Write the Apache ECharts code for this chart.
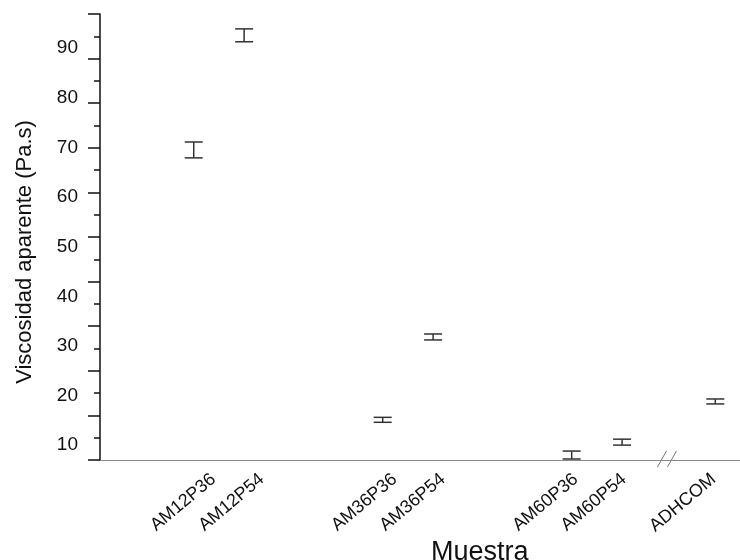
<!DOCTYPE html>
<html>
<head>
<meta charset="utf-8">
<script src="https://cdn.jsdelivr.net/npm/echarts@6/dist/echarts.min.js"></script>
<style>html,body{margin:0;padding:0;background:#fff}#c{width:740px;height:560px}</style>
</head>
<body>
<div id="c"></div>
<script>
// ---- data ----
const samples = ['AM12P36', 'AM12P54', 'AM36P36', 'AM36P54', 'AM60P36', 'AM60P54', 'ADHCOM'];
const xPos = [1, 2, 4.75, 5.75, 8.5, 9.5, 11.35];
const means = [69.5, 92.6, 15.1, 31.8, 8.0, 10.6, 18.8];
const errs = [1.6, 1.3, 0.5, 0.6, 0.8, 0.6, 0.5];
const yTickLabels = [10, 20, 30, 40, 50, 60, 70, 80, 90];
const breakAt = [10.4];
const yTitle = 'Viscosidad aparente (Pa.s)';
const xTitle = 'Muestra';

const FONT = 'Liberation Sans, Arial, Helvetica, sans-serif';
const chart = echarts.init(document.getElementById('c'));

const errData = samples.map((s, i) => [xPos[i], means[i] - errs[i], means[i] + errs[i], s]);

chart.setOption({
  animation: false,
  backgroundColor: '#fff',
  title: {
    text: xTitle, left: 426, top: 534,
    textStyle: { fontFamily: FONT, fontSize: 27, fontWeight: 'normal', color: '#111' }
  },
  grid: { left: 100, right: 0, top: 14, bottom: 100, containLabel: false, outerBoundsMode: 'none' },
  xAxis: [
    {
      type: 'value', min: -0.86, max: 11.84, position: 'bottom',
      axisLine: { show: true, onZero: false, lineStyle: { color: '#8a8a8a', width: 1 } },
      axisTick: { show: false }, axisLabel: { show: false }, splitLine: { show: false }
    },
    {
      type: 'value', min: -1.35, max: 11.9, interval: 0.05, position: 'bottom',
      axisLine: { show: false }, axisTick: { show: false }, splitLine: { show: false },
      axisLabel: {
        show: true, rotate: 40, margin: 17, fontFamily: FONT, fontSize: 18, color: '#111',
        showMinLabel: false, showMaxLabel: false,
        formatter: function (v) {
          for (let i = 0; i < xPos.length; i++) if (Math.abs(xPos[i] - v) < 0.01) return samples[i];
          return '';
        }
      }
    }
  ],
  yAxis: [
    {
      type: 'value', min: 0, max: 100, interval: 10, position: 'left',
      name: yTitle, nameLocation: 'middle', nameGap: 64, nameRotate: 90,
      nameTextStyle: { fontFamily: FONT, fontSize: 22, color: '#111', padding: [0, 30, 0, 0] },
      axisLine: { show: true, onZero: false, lineStyle: { color: '#111', width: 1.5 } },
      axisTick: { show: true, inside: false, length: 12, lineStyle: { color: '#111', width: 1.5 } },
      minorTick: { show: true, splitNumber: 2, length: 6, lineStyle: { color: '#111', width: 1.5 } },
      axisLabel: { show: false }, splitLine: { show: false }, minorSplitLine: { show: false }
    },
    {
      type: 'value', min: 7, max: 96.9, interval: 1, position: 'left',
      axisLine: { show: false }, axisTick: { show: false }, splitLine: { show: false },
      axisLabel: {
        show: true, margin: 22, fontFamily: FONT, fontSize: 19, color: '#111',
        showMinLabel: false, showMaxLabel: false,
        formatter: function (v) {
          const r = Math.round(v);
          return (Math.abs(v - r) < 1e-6 && yTickLabels.indexOf(r) >= 0) ? String(r) : '';
        }
      }
    }
  ],
  series: [
    {
      type: 'custom', name: 'err', xAxisIndex: 0, yAxisIndex: 1,
      data: errData,
      renderItem: function (params, api) {
        const x = api.value(0);
        const lo = api.coord([x, api.value(1)]);
        const hi = api.coord([x, api.value(2)]);
        const h = 9;
        const st = { stroke: '#333', lineWidth: 1.5 };
        return {
          type: 'group',
          children: [
            { type: 'line', shape: { x1: lo[0], y1: lo[1], x2: hi[0], y2: hi[1] }, style: st },
            { type: 'line', shape: { x1: lo[0] - h, y1: lo[1], x2: lo[0] + h, y2: lo[1] }, style: st },
            { type: 'line', shape: { x1: hi[0] - h, y1: hi[1], x2: hi[0] + h, y2: hi[1] }, style: st }
          ]
        };
      }
    },
    {
      type: 'custom', name: 'break', xAxisIndex: 0, yAxisIndex: 0,
      data: breakAt.map(b => [b, 0]),
      renderItem: function (params, api) {
        const p = api.coord([api.value(0), api.value(1)]);
        const st = { stroke: '#777', lineWidth: 1 };
        return {
          type: 'group',
          children: [
            { type: 'line', shape: { x1: p[0] - 10, y1: p[1] + 7, x2: p[0] - 1, y2: p[1] - 9 }, style: st },
            { type: 'line', shape: { x1: p[0] + 0, y1: p[1] + 7, x2: p[0] + 9, y2: p[1] - 9 }, style: st }
          ]
        };
      }
    }
  ]
});
</script>
</body>
</html>
